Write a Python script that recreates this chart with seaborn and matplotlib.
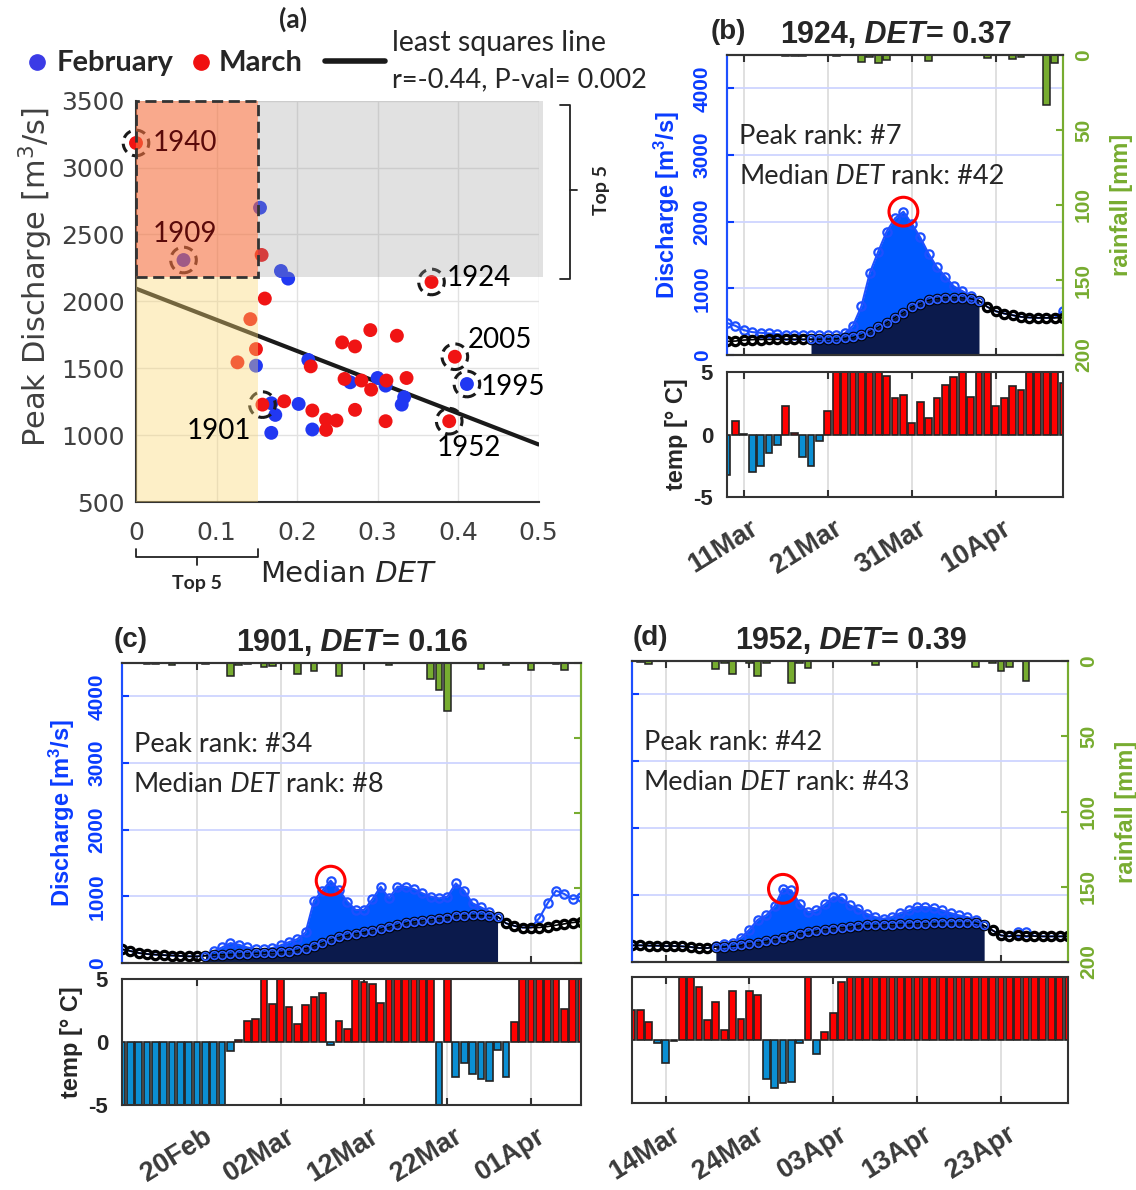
import numpy as np
import pandas as pd
import matplotlib
matplotlib.use("Agg")
import matplotlib.pyplot as plt
from matplotlib.patches import Rectangle
from matplotlib.lines import Line2D
import matplotlib.transforms as mtransforms
import seaborn as sns

# ------------------------------------------------------------------
# (a) peak discharge against median DET
# ------------------------------------------------------------------
feb_det = [0.059, 0.154, 0.180, 0.189, 0.149, 0.168, 0.173, 0.168, 0.202,
           0.214, 0.219, 0.266, 0.300, 0.310, 0.330, 0.333, 0.411]
feb_peak = [2309, 2700, 2227, 2170, 1519, 1238, 1151, 1017, 1233,
            1562, 1042, 1395, 1427, 1370, 1228, 1283, 1382]
mar_det = [0.000, 0.156, 0.160, 0.142, 0.149, 0.126, 0.157, 0.184, 0.217,
           0.219, 0.236, 0.236, 0.249, 0.256, 0.259, 0.272, 0.272, 0.280,
           0.291, 0.292, 0.311, 0.310, 0.324, 0.336, 0.367, 0.396, 0.389]
mar_peak = [3184, 2347, 2021, 1867, 1643, 1544, 1228, 1253, 1514,
            1184, 1116, 1039, 1109, 1693, 1420, 1663, 1189, 1408,
            1785, 1340, 1408, 1104, 1743, 1427, 2145, 1586, 1104]

hl_years = ["1940", "1909", "1924", "2005", "1995", "1901", "1952"]
hl_det = [0.000, 0.059, 0.367, 0.396, 0.411, 0.157, 0.389]
hl_peak = [3184, 2309, 2145, 1586, 1382, 1228, 1104]

fit_intercept = 2095.0
fit_slope = -2330.0
fit_label = "r=-0.44, P-val= 0.002"

# ------------------------------------------------------------------
# (b) 1924, day 0 = 09 Mar
# ------------------------------------------------------------------
b_flow = [480, 438, 373, 343, 333, 323, 313, 303, 303, 298, 298, 293, 293, 298,
          323, 440, 730, 1230, 1550, 1850, 2050, 2150, 1970, 1765, 1520, 1315,
          1175, 1030, 960, 885, 815, 721, 657, 622, 597, 572, 562, 557, 557, 557, 662]
b_base = [205, 209, 224, 230, 232, 234, 234, 234, 234, 234, 236, 238, 240, 242,
          250, 264, 298, 348, 413, 483, 562, 637, 721, 771, 821, 846, 861, 861,
          856, 846, 815, 721, 657, 622, 597, 572, 562, 557, 557, 557, 557]
b_rain = [0, 0, 0, 0, 0, 0, 0, 0.5, 0.5, 0.5,
          0, 0, 0, 0.4, 0, 0, 4.6, 1.0, 5.6, 3.0,
          0, 0, 0, 0, 3.8, 0, 0, 0, 0, 0,
          0, 2.0, 0, 0, 2.5, 1.3, 0, 0, 33.0, 5.0,
          0]
b_temp = [-3.2, 1.1, 0.05, -3.0, -2.5, -1.5, -0.8, 2.3, 0.1, -1.8, -2.5, -0.5, 1.9,
          5, 5, 5, 5, 5, 5, 4.65, 2.9, 3.2, 0.9, 2.6, 1.3, 2.9, 4.0, 4.6, 5, 3.0,
          5, 5, 2.3, 2.9, 3.85, 3.6, 5, 5, 5, 5, 4.1]
b_ticks = [2, 12, 22, 32]
b_ticklabels = ["11Mar", "21Mar", "31Mar", "10Apr"]

# ------------------------------------------------------------------
# (c) 1901, day 0 = 20 Feb
# ------------------------------------------------------------------
c_flow = [205, 180, 150, 135, 125, 118, 112, 106, 100, 100, 110,
          174, 234, 298, 274, 234, 209, 209, 224, 264, 313, 358, 458,
          935, 1085, 1235, 1095, 920, 796, 796, 955, 1144, 970, 1144, 1144, 1109,
          1045, 995, 970, 995, 1194, 1085, 896, 836, 771, 697, 597, 557, 532, 532,
          672, 896, 1085, 1035, 955, 995]
c_base = [205, 180, 150, 135, 125, 118, 112, 106, 100, 100, 110,
          120, 125, 130, 135, 140, 145, 150, 155, 160, 170, 190, 215,
          255, 300, 345, 385, 415, 438, 458, 483, 507, 537, 567, 597, 617,
          632, 647, 667, 682, 706, 711, 716, 714, 710, 697, 597, 557, 532, 532,
          532, 547, 567, 587, 607, 622]
c_rain = [0, 0, 0, 0.5, 0.5, 0, 1.0, 0, 0, 0,
          0.5, 0, 0, 8.6, 1.5, 0.5, 0, 2.7, 2.0, 0,
          0, 7.5, 0, 5.3, 0, 0, 8.6, 0, 0, 0,
          0, 0, 1.5, 0, 0, 0, 0, 10.9, 17.7, 32.0,
          0, 0, 0, 3.8, 0, 0, 1.5, 0, 0, 4.9,
          0, 0, 0.5, 4.9, 0, 0]
c_temp = [-5, -5, -5, -5, -5, -5, -5, -5, -5, -5, -5, -5, -5,
          -0.7, 0.16, 1.7, 1.8, 5, 3.0, 5, 2.8, 1.4, 2.9, 3.6, 3.9, -0.27, 1.7,
          1.0, 5, 4.8, 4.6, 3.1,
          5, 5, 5, 5, 5, 5, -5, 5,
          -2.8, -1.65, -2.5, -2.9, -3.1, -0.6, -2.75, 1.6,
          5, 5, 5, 5, 5, 2.6, 5, 5]
c_ticks = [0, 10, 20, 30, 40]
c_ticklabels = ["20Feb", "02Mar", "12Mar", "22Mar", "01Apr"]

# ------------------------------------------------------------------
# (d) 1952, day 0 = 14 Mar
# ------------------------------------------------------------------
d_flow = [249, 249, 244, 244, 239, 239, 234, 224, 209, 209,
          235, 274, 284, 363, 483, 632, 697, 831, 1094, 1070, 871, 746, 771,
          861, 970, 960, 846, 796, 721, 672, 647, 672, 731, 771, 821, 821, 806,
          771, 731, 697, 672, 632, 547,
          473, 398, 383, 448, 448, 388, 383, 383, 383, 383]
d_base = [249, 249, 244, 244, 239, 239, 234, 224, 209, 209,
          224, 224, 234, 249, 274, 289, 308, 333, 363, 388, 423, 443, 463,
          483, 498, 512, 522, 537, 547, 547, 552, 557, 562, 562, 572, 572, 577,
          582, 582, 582, 582, 582, 547,
          473, 398, 383, 398, 388, 388, 383, 383, 383, 383]
d_rain = [0, 0.5, 2.0, 0, 0, 0, 0, 0, 0, 0,
          5.3, 1.0, 8.7, 0, 1.5, 9.8, 1.5, 0, 0, 14.9,
          1.5, 4.9, 0, 0, 0.3, 0.3, 0, 0, 0, 2.7,
          0, 0, 0, 0, 0, 0, 0, 0, 0, 0,
          0, 3.8, 0, 1.5, 6.7, 3.8, 0, 13.0, 0, 0.3,
          0, 0, 0]
d_temp = [2.4, 2.4, 1.4, -0.25, -1.8, -0.08, 5, 5, 4.2, 1.6, 3.0, 0.8, 3.9,
          1.7, 3.9, 3.6, -3.1, -3.8, -3.4, -3.3, -0.2, 5, -1.1, 0.64, 2.15, 4.6,
          5, 5, 5, 5, 5, 5, 5, 5, 5, 5, 5, 5, 5, 5, 5, 5, 5, 5, 5, 5, 5, 5, 5,
          5, 5, 5, 5]
d_ticks = [0, 10, 20, 30, 40]
d_ticklabels = ["14Mar", "24Mar", "03Apr", "13Apr", "23Apr"]

q_ticks = [0, 1000, 2000, 3000, 4000]
rain_ticks = [0, 50, 100, 150, 200]
temp_ticks = [-5, 0, 5]

# ------------------------------------------------------------------
# styling
# ------------------------------------------------------------------
sns.set_theme(style="white")
plt.rcParams["font.family"] = ["DejaVu Sans"]
plt.rcParams["mathtext.default"] = "regular"

ARIAL = "Liberation Sans"
CALIBRI = "Lato"
PT_BLUE = "#2138F2"
PT_RED = "#F01414"
Q_BLUE = "#1E50FF"
Q_FILL = "#0057FF"
NAVY = "#0B1A4C"
GREEN = "#77AC30"
AXIS_BLUE = "#0A3CFF"
T_RED = "#FF0000"
T_BLUE = "#0B8FD3"
EDGE = "#222222"

W, H = 1136, 1190
fig = plt.figure(figsize=(W / 100, H / 100), dpi=100)
renderer = fig.canvas.get_renderer()


def frect(l, t, r, b):
    return [l / W, 1 - b / H, (r - l) / W, (b - t) / H]


def ftext(x, y, s, **kw):
    return fig.text(x / W, 1 - y / H, s, **kw)


def rich(x, y, size, parts, **common):
    """Write text pieces of mixed style one after the other; y is the cap centre."""
    base_y = y + 0.36 * size * 100 / 72
    for s, extra in parts:
        opts = dict(common)
        opts.update(extra)
        t = ftext(x, base_y, s, ha="left", va="baseline", fontsize=size, **opts)
        x += t.get_window_extent(renderer).width


# ------------------------------------------------------------------
# panel (a)
# ------------------------------------------------------------------
ax_a = fig.add_axes(frect(136, 100.7, 538.6, 502))
df_a = pd.DataFrame({
    "det": feb_det + mar_det,
    "peak": feb_peak + mar_peak,
    "month": ["February"] * len(feb_det) + ["March"] * len(mar_det),
})
sns.scatterplot(data=df_a, x="det", y="peak", hue="month",
                palette={"February": PT_BLUE, "March": PT_RED},
                s=100, linewidth=0, legend=False, ax=ax_a, zorder=3, clip_on=False)

xs = np.array([0.0, 0.5])
ax_a.plot(xs, fit_intercept + fit_slope * xs, color="k", lw=3, zorder=2.5)

ax_a.scatter(hl_det, hl_peak, s=340, facecolors="none", edgecolors="k",
             linewidths=2.2, linestyles=(0, (3, 2)), zorder=4, clip_on=False)

top_peak = 2183
top_det = 0.151
ax_a.add_patch(Rectangle((0, 500), top_det, top_peak - 500, facecolor="#FAD775",
                         alpha=0.4, lw=0, zorder=5))
ax_a.add_patch(Rectangle((0, top_peak), top_det, 3500 - top_peak, facecolor="#F5713F",
                         alpha=0.6, lw=0, zorder=5))
ax_a.add_patch(Rectangle((top_det, top_peak), 0.355, 3500 - top_peak, facecolor="#9C9C9C",
                         alpha=0.3, lw=0, zorder=5, clip_on=False))
ax_a.add_patch(Rectangle((0, top_peak), top_det, 3500 - top_peak, fill=False,
                         edgecolor="#333333", lw=2, ls=(0, (4, 2)), zorder=6, clip_on=False))

# year annotations (offsets in points)
year_offsets = {"1940": (12, 0, "left"), "1909": (-22, 19, "left"), "1924": (11, 3, "left"),
                "2005": (9, 12, "left"), "1995": (10, -2, "left"), "1901": (-8, -19, "right"),
                "1952": (-9, -19, "left")}
for yr, dx, py in zip(hl_years, hl_det, hl_peak):
    ox, oy, ha = year_offsets[yr]
    col = "#5A0A0A" if yr in ("1940", "1909") else "black"
    ax_a.annotate(yr, (dx, py), xytext=(ox, oy), textcoords="offset points",
                  ha=ha, va="center", fontsize=20, family=CALIBRI, color=col, zorder=7)

ax_a.set_xlim(0, 0.5)
ax_a.set_ylim(500, 3500)
ax_a.set_xticks([0, 0.1, 0.2, 0.3, 0.4, 0.5])
ax_a.set_xticklabels(["0", "0.1", "0.2", "0.3", "0.4", "0.5"])
ax_a.set_yticks(np.arange(500, 3501, 500))
ax_a.tick_params(direction="in", length=6, width=1.2, color="#333333",
                 labelsize=18, labelcolor="#404040")
ax_a.tick_params(axis="x", pad=14)
ax_a.tick_params(axis="y", pad=8)
ax_a.grid(True, color="#E2E2E2", lw=1)
ax_a.set_axisbelow(True)
ax_a.set_xlabel("")
ax_a.set_ylabel("")
for side in ("top", "right"):
    ax_a.spines[side].set_visible(False)
for side in ("left", "bottom"):
    ax_a.spines[side].set_color("#333333")
    ax_a.spines[side].set_linewidth(1.5)

ftext(36, 277, "Peak Discharge [m$^3$/s]", rotation=90, ha="center", va="center",
      fontsize=22, color="#404040")
rich(260, 572, 21, [("Median", {}), (" DET", {"style": "italic"})], color="#262626")

# "Top 5" brackets
bx = mtransforms.blended_transform_factory(ax_a.transData, ax_a.transAxes)
ax_a.plot([0, 0, top_det, top_det], [-0.117, -0.137, -0.137, -0.117], color="#222222",
          lw=1.3, transform=bx, clip_on=False)
ax_a.plot([top_det / 2, top_det / 2], [-0.137, -0.157], color="#222222", lw=1.3,
          transform=bx, clip_on=False)
ax_a.text(top_det / 2, -0.202, "Top 5", transform=bx, ha="center", va="center",
          fontsize=14, fontweight="bold", family=CALIBRI)
by = mtransforms.blended_transform_factory(ax_a.transAxes, ax_a.transData)
ax_a.plot([1.053, 1.078, 1.078, 1.053], [3468, 3468, 2167, 2167], color="#222222", lw=1.3,
          transform=by, clip_on=False)
ax_a.plot([1.078, 1.095], [2833, 2833], color="#222222", lw=1.3, transform=by, clip_on=False)
ax_a.text(1.157, 2833, "Top 5", transform=by, ha="center", va="center", rotation=90,
          fontsize=14, fontweight="bold", family=CALIBRI)

# legend row above panel (a)
fig.add_artist(Line2D([37 / W], [1 - 62 / H], marker="o", ms=11, color="#3B3BE6",
                      ls="none", transform=fig.transFigure))
ftext(57, 63, "February", ha="left", va="center", fontsize=21, fontweight="bold", family=CALIBRI)
fig.add_artist(Line2D([201 / W], [1 - 62 / H], marker="o", ms=11, color="#F01010",
                      ls="none", transform=fig.transFigure))
ftext(219, 63, "March", ha="left", va="center", fontsize=21, fontweight="bold", family=CALIBRI)
fig.add_artist(Line2D([325 / W, 385 / W], [1 - 61 / H, 1 - 61 / H], color="k", lw=4,
                      transform=fig.transFigure))
ftext(392, 43, "least squares line", ha="left", va="center", fontsize=20.5, family=CALIBRI)
ftext(392, 80, fit_label, ha="left", va="center", fontsize=19.5, family=CALIBRI)
ftext(293, 19, "(a)", ha="center", va="center", fontsize=19, fontweight="bold", family=CALIBRI)


# ------------------------------------------------------------------
# hydrograph panels
# ------------------------------------------------------------------
def hydro(qbox, tbox, day0, flow, base, rain, temp, win, ticks, ticklabels,
          tag, tag_x, title_x, title_y, year, det, peak_rank, det_rank,
          left_labels, right_labels, temp_labels):
    flow = np.asarray(flow, float)
    base = np.asarray(base, float)
    rain = np.asarray(rain, float)
    temp = np.asarray(temp, float)
    days = np.arange(len(flow)) + day0
    x0, x1 = days[0], days[-1]

    axq = fig.add_axes(frect(*qbox))
    axq.set_xlim(x0, x1)
    axq.set_ylim(0, 4500)
    inwin = (days >= win[0]) & (days <= win[1])
    axq.fill_between(days[inwin], 0, base[inwin], color=NAVY, lw=0, zorder=1)
    axq.fill_between(days[inwin], base[inwin], flow[inwin], color=Q_FILL, lw=0, zorder=1)
    sns.lineplot(x=days, y=flow, ax=axq, color=Q_BLUE, lw=1.5, marker="o", ms=6,
                 mfc="none", mec=Q_BLUE, mew=1.6, zorder=3)
    sns.lineplot(x=days, y=base, ax=axq, color="black", lw=1.2, marker="o", ms=6,
                 mfc="none", mec="black", mew=2.3, zorder=4)
    axq.plot(days[inwin], base[inwin], ls="none", marker="o", ms=5.5, mfc="none",
             mec="#2B5CFF", mew=1.3, zorder=5)
    ip = int(np.argmax(flow))
    axq.scatter([days[ip]], [flow[ip]], s=430, facecolors="none", edgecolors="red",
                linewidths=2.2, zorder=6)

    axq.set_xticks(ticks)
    axq.set_xticklabels([])
    axq.set_yticks(q_ticks)
    axq.grid(False)
    axq.yaxis.grid(True, color="#CED4FF", lw=1.3)
    axq.xaxis.grid(True, color="#DADADA", lw=1.2)
    axq.set_axisbelow(True)
    axq.tick_params(axis="x", direction="in", length=5, width=1.5, color="#333333",
                    top=True, bottom=True)
    axq.tick_params(axis="y", direction="in", length=5, width=1.5, color=AXIS_BLUE,
                    pad=11)
    axq.set_xlabel("")
    if left_labels:
        axq.set_yticklabels([str(v) for v in q_ticks], rotation=90, va="center",
                            fontsize=15, fontweight="bold", family=ARIAL, color=AXIS_BLUE)
        axq.set_ylabel("Discharge [m$^3$/s]", color=AXIS_BLUE, fontsize=17,
                       fontweight="bold", family=ARIAL, labelpad=8)
    else:
        axq.set_yticklabels([])
        axq.set_ylabel("")

    axr = axq.twinx()
    wet = rain > 0
    axr.bar(days[wet], rain[wet], width=0.8, color=GREEN, edgecolor=EDGE, lw=1.1, zorder=2)
    axr.set_ylim(200, 0)
    axr.set_xlim(x0, x1)
    axr.set_yticks(rain_ticks)
    axr.grid(False)
    axr.tick_params(axis="y", direction="in", length=5, width=1.5, color=GREEN, pad=8)
    if right_labels:
        axr.set_yticklabels([str(v) for v in rain_ticks], rotation=90, va="center",
                            fontsize=15, fontweight="bold", family=ARIAL, color=GREEN)
        axr.set_ylabel("rainfall [mm]", color=GREEN, fontsize=17, fontweight="bold",
                       family=ARIAL, labelpad=12)
    else:
        axr.set_yticklabels([])

    for a in (axq, axr):
        a.spines["left"].set_color(Q_BLUE)
        a.spines["right"].set_color(GREEN)
        a.spines["top"].set_color("#333333")
        a.spines["bottom"].set_color("#333333")
        for s in a.spines.values():
            s.set_linewidth(1.5)

    # temperature bars
    axt = fig.add_axes(frect(*tbox))
    cols = [T_RED if v >= 0 else T_BLUE for v in temp]
    axt.bar(days, temp, width=0.8, color=cols, edgecolor=EDGE, lw=1.2, zorder=2)
    axt.set_xlim(x0, x1)
    axt.set_ylim(-5, 5)
    axt.set_yticks(temp_ticks)
    axt.set_xticks(ticks)
    axt.set_xticklabels([])
    axt.grid(False)
    axt.xaxis.grid(True, color="#DADADA", lw=1.2)
    axt.set_axisbelow(True)
    axt.tick_params(axis="x", direction="in", length=5, width=1.5, color="#333333",
                    top=True, bottom=True)
    axt.tick_params(axis="y", direction="in", length=4, width=1.2, color="#333333", pad=10)
    if temp_labels:
        axt.set_yticklabels([str(v) for v in temp_ticks], fontsize=16, fontweight="bold",
                            family=ARIAL)
        axt.set_ylabel("temp [° C]", fontsize=17, fontweight="bold", family=ARIAL,
                       labelpad=4)
    else:
        axt.set_yticklabels([])
    for s in axt.spines.values():
        s.set_color("#333333")
        s.set_linewidth(1.5)
    for d, lbl in zip(ticks, ticklabels):
        axt.annotate(lbl, (d, 0), xycoords=("data", "axes fraction"), xytext=(9, -21),
                     textcoords="offset points", rotation=32, ha="right", va="center",
                     rotation_mode="anchor", fontsize=19.5, fontweight="bold",
                     family=ARIAL, color="#3A3A3A", annotation_clip=False)

    # titles and rank notes
    ftext(tag_x, title_y, tag, ha="center", va="center", fontsize=20,
          fontweight="bold", family=ARIAL)
    rich(title_x, title_y, 22, [(f"{year},", {}), (" DET", {"style": "italic"}),
                                 (f"= {det}", {})], fontweight="bold", family=ARIAL)
    l, t = qbox[0], qbox[1]
    ftext(l + 12, t + 81, f"Peak rank: #{peak_rank}", ha="left", va="center",
          fontsize=19.5, family=CALIBRI)
    rich(l + 12, t + 119, 19.5, [("Median", {}), (" DET", {"style": "italic"}),
                                 (f" rank: #{det_rank}", {})], family=CALIBRI)


hydro((727, 55, 1063, 355), (727, 372, 1063, 497), 0, b_flow, b_base, b_rain, b_temp,
      (10, 30), b_ticks, b_ticklabels, "(b)", 728, 780, 32, 1924, "0.37", 7, 42,
      True, True, True)
hydro((122, 663, 581, 963), (122, 979, 581, 1105), -9, c_flow, c_base, c_rain, c_temp,
      (1, 36), c_ticks, c_ticklabels, "(c)", 131, 236, 640, 1901, "0.16", 34, 8,
      True, False, True)
hydro((632, 661, 1068, 962), (632, 977, 1068, 1103), -4, d_flow, d_base, d_rain, d_temp,
      (6, 38), d_ticks, d_ticklabels, "(d)", 650, 735, 638, 1952, "0.39", 42, 43,
      False, True, False)

fig.savefig("out.png", dpi=100)
